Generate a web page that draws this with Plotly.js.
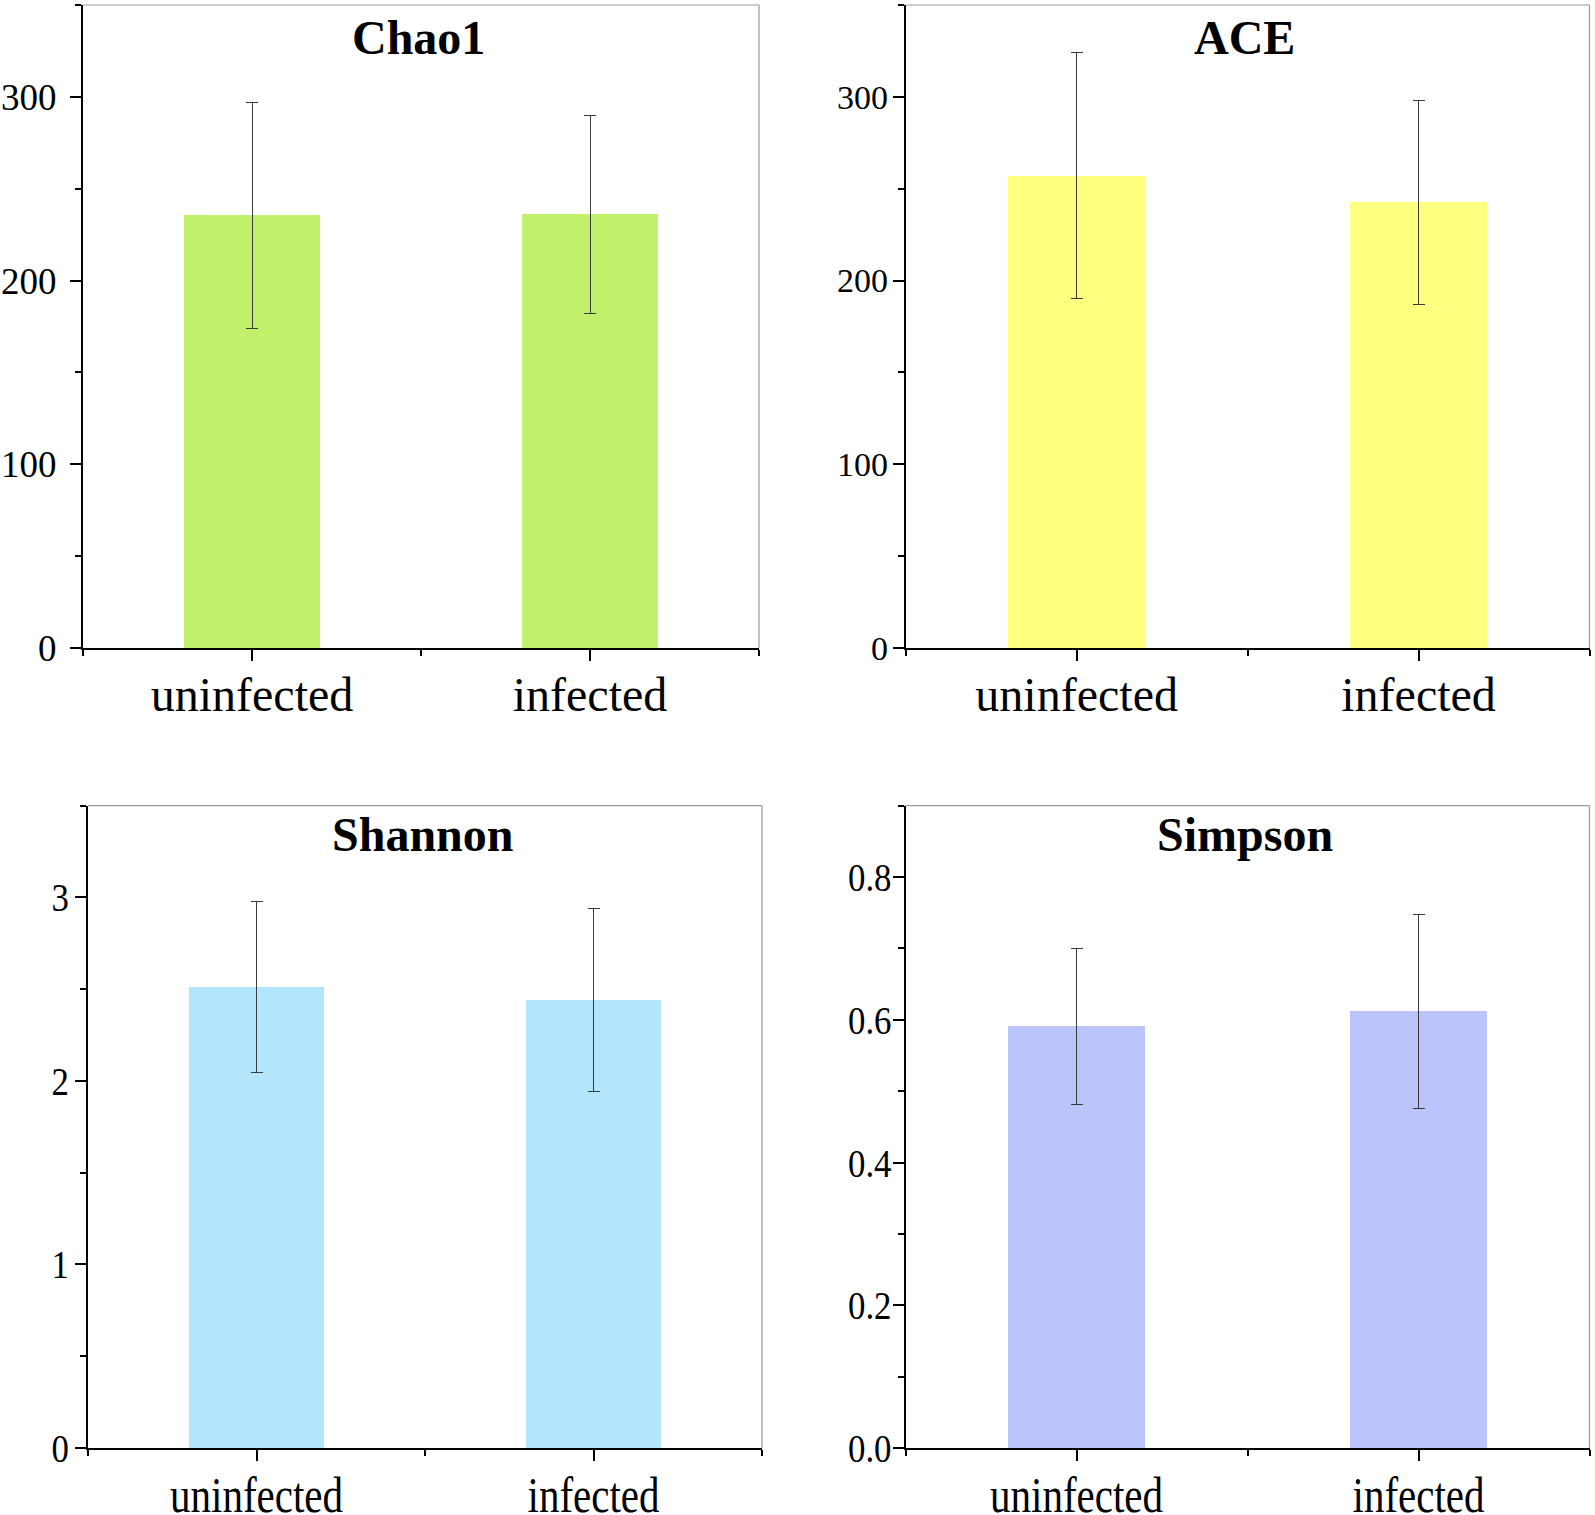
<!DOCTYPE html>
<html>
<head>
<meta charset="utf-8">
<script src="https://cdn.plot.ly/plotly-3.0.1.min.js"></script>
<style>
  html, body { margin: 0; padding: 0; background: #fff; }
  #chart { width: 1595px; height: 1515px; }
</style>
</head>
<body>
<div id="chart"></div>
<script>
// ---- data ----
const categories = ["uninfected", "infected"];
const chao1Mean = [235.5, 236];
const chao1Err = [61.5, 54];
const aceMean = [257, 242.5];
const aceErr = [67, 55.5];
const shannonMean = [2.51, 2.44];
const shannonErr = [0.466, 0.5];
const simpsonMean = [0.591, 0.612];
const simpsonErr = [0.109, 0.136];
const panelTitles = ["Chao1", "ACE", "Shannon", "Simpson"];
const barColors = ["#C1F06B", "#FFFF80", "#B3E6FC", "#BCC5FB"];

const FONT = "'Liberation Serif', 'Times New Roman', serif";
const xIdx = categories.map((c, i) => i);

const series = [
  {m: chao1Mean, e: chao1Err},
  {m: aceMean, e: aceErr},
  {m: shannonMean, e: shannonErr},
  {m: simpsonMean, e: simpsonErr}
];

const traces = series.map((s, k) => ({
  type: "bar",
  x: xIdx,
  y: s.m,
  width: 0.4,
  xaxis: k === 0 ? "x" : "x" + (k + 1),
  yaxis: k === 0 ? "y" : "y" + (k + 1),
  marker: {color: barColors[k], line: {width: 0}},
  error_y: {type: "data", array: s.e, visible: true, color: "#3a3a3a", thickness: 1, width: 6},
  hoverinfo: "skip",
  showlegend: false
}));

const W = 1595, H = 1515;
const px = (a, b) => [a / W, b / W];
const py = (top, bot) => [1 - bot / H, 1 - top / H];

const xDomains = [px(83, 759), px(905.7, 1589.5), px(88, 762), px(905.5, 1589.5)];
const yDomains = [py(5, 648), py(5, 648), py(805.7, 1448), py(805.7, 1448)];
const yRanges = [[0, 350], [0, 350], [0, 3.5], [0, 0.9]];
const yDticks = [100, 100, 1, 0.2];
const yMinor = [50, 50, 0.5, 0.1];
const yFmt = ["", "", "", ".1f"];
const yFont = [37, 34, 40, 40];
const xFont = [48, 48, 50, 50];
const yStand = [6, -2, -2, -7];
const xStand = [-8, -8, -9, -9];
const titleShift = [-4, -4, 0, 0];

const layout = {
  width: W, height: H,
  margin: {l: 0, r: 0, t: 0, b: 0},
  paper_bgcolor: "#ffffff",
  plot_bgcolor: "#ffffff",
  font: {family: FONT, color: "#000"},
  bargap: 0,
  shapes: [],
  annotations: []
};

for (let k = 0; k < 4; k++) {
  const xn = k === 0 ? "xaxis" : "xaxis" + (k + 1);
  const yn = k === 0 ? "yaxis" : "yaxis" + (k + 1);
  const xr = k === 0 ? "x" : "x" + (k + 1);
  const yr = k === 0 ? "y" : "y" + (k + 1);
  layout[xn] = {
    domain: xDomains[k],
    anchor: yr,
    range: [-0.5, 1.5],
    tickmode: "array",
    tickvals: xIdx,
    ticktext: categories,
    ticks: "outside",
    ticklen: 11,
    tickwidth: 2,
    tickcolor: "#000",
    showline: true,
    linecolor: "#000",
    linewidth: 2,
    showgrid: false,
    zeroline: false,
    fixedrange: true,
    ticklabelstandoff: xStand[k],
    tickfont: {family: FONT, size: xFont[k], color: "#000"},
    minor: {tickmode: "linear", tick0: -0.5, dtick: 1, ticks: "outside", ticklen: 6, tickwidth: 2, tickcolor: "#000", showgrid: false}
  };
  layout[yn] = {
    domain: yDomains[k],
    anchor: xr,
    range: yRanges[k],
    tickmode: "linear",
    tick0: 0,
    dtick: yDticks[k],
    tickformat: yFmt[k],
    ticks: "outside",
    ticklen: 11,
    tickwidth: 2,
    tickcolor: "#000",
    showline: true,
    linecolor: "#000",
    linewidth: 2,
    showgrid: false,
    zeroline: false,
    fixedrange: true,
    ticklabelstandoff: yStand[k],
    tickfont: {family: FONT, size: yFont[k], color: "#000"},
    minor: {tickmode: "linear", tick0: 0, dtick: yMinor[k], ticks: "outside", ticklen: 6, tickwidth: 2, tickcolor: "#000", showgrid: false}
  };
  // top and right frame lines (thin grey)
  layout.shapes.push({type: "line", xref: xr + " domain", yref: yr + " domain", x0: 0, x1: 1, y0: 1, y1: 1, line: {color: "#9a9a9a", width: 1.2}});
  layout.shapes.push({type: "line", xref: xr + " domain", yref: yr + " domain", x0: 1, x1: 1, y0: 0, y1: 1, line: {color: "#9a9a9a", width: 1.2}});
  layout.annotations.push({
    text: "<b>" + panelTitles[k] + "</b>",
    xref: xr + " domain", yref: yr + " domain",
    x: 0.5, y: 1, xanchor: "center", yanchor: "top",
    yshift: titleShift[k],
    xshift: -3,
    showarrow: false,
    font: {family: FONT, size: 48, color: "#000"}
  });
}

// The lower panels in the source figure are horizontally condensed; mimic that on their tick labels.
function condense() {
  const specs = [["x3", 0.82], ["x4", 0.82], ["y3", 0.87], ["y4", 0.87]];
  specs.forEach(([ax, f]) => {
    document.querySelectorAll("g." + ax + "tick text").forEach(el => {
      const w = el.getComputedTextLength();
      if (w > 0) {
        el.setAttribute("textLength", (w * f).toFixed(1));
        el.setAttribute("lengthAdjust", "spacingAndGlyphs");
      }
    });
  });
}

Plotly.newPlot("chart", traces, layout, {staticPlot: true, displayModeBar: false}).then(condense);
</script>
</body>
</html>
